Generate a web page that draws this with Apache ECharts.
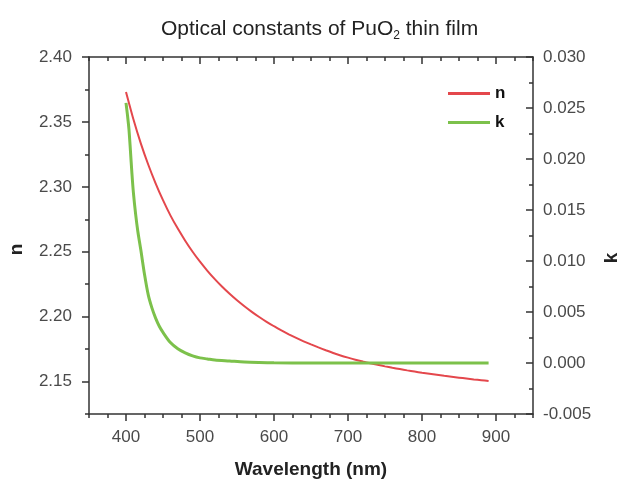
<!DOCTYPE html>
<html>
<head>
<meta charset="utf-8">
<script src="https://cdn.jsdelivr.net/npm/echarts@6/dist/echarts.min.js"></script>
<style>html,body{margin:0;padding:0;background:#fff}#c{width:621px;height:480px}</style>
</head>
<body>
<div id="c"></div>
<script>
// Data
const wavelengthN = [400,410,420,430,440,450,460,470,480,490,500,510,520,530,540,550,560,570,580,590,600,610,620,630,640,650,660,670,680,690,700,710,720,730,740,750,760,770,780,790,800,810,820,830,840,850,860,870,880,890];
const nValues = [2.3730,2.3520,2.3335,2.3172,2.3027,2.2897,2.2780,2.2678,2.2585,2.2500,2.2423,2.2353,2.2289,2.2230,2.2176,2.2126,2.2080,2.2037,2.1997,2.1960,2.1926,2.1894,2.1864,2.1836,2.1810,2.1786,2.1763,2.1741,2.1720,2.1701,2.1684,2.1668,2.1654,2.1641,2.1629,2.1617,2.1606,2.1596,2.1586,2.1577,2.1568,2.1560,2.1552,2.1544,2.1537,2.1530,2.1523,2.1516,2.1510,2.1504];
const wavelengthK = [400,402,404,406,408,410,413,416,420,425,430,435,440,445,450,460,470,480,490,500,510,520,540,560,580,600,650,700,750,800,850,890];
const kValues = [0.0255,0.0243,0.0229,0.0208,0.0186,0.0167,0.0146,0.0129,0.0111,0.0087,0.0067,0.0054,0.0044,0.0036,0.0030,0.0020,0.0014,0.0010,0.0007,0.0005,0.0004,0.0003,0.0002,0.0001,0.00005,0.00002,0,0,0,0,0,0];
const xTickLabels = [400,500,600,700,800,900];
const nTickLabels = [2.15,2.20,2.25,2.30,2.35,2.40];

const FONT = "'Liberation Sans', Arial, sans-serif";
const AX = '#333';
const LBL = '#4a4a4a';

const chart = echarts.init(document.getElementById('c'), null, {renderer:'canvas'});
const lineStyle = {color: AX, width: 1.5};
const grid = {left: 89, right: 88, top: 57, bottom: 66, containLabel: false, outerBoundsMode: 'none'};

function xAxisBase(pos, opts) {
  return Object.assign({
    type: 'value', min: 350, max: 950, position: pos,
    splitLine: {show: false}, axisLabel: {show: false},
    axisLine: {show: false, onZero: false}
  }, opts);
}
function yAxisBase(pos, min, max, opts) {
  return Object.assign({
    type: 'value', min: min, max: max, position: pos,
    splitLine: {show: false}, axisLabel: {show: false},
    axisLine: {show: false, onZero: false}
  }, opts);
}
const shownLine = {show: true, onZero: false, lineStyle: lineStyle};

chart.setOption({
  animation: false,
  backgroundColor: '#fff',
  title: {
    text: '{a|Optical constants of PuO}{b|2}{a| thin film}',
    left: 156, top: 12,
    textStyle: {
      rich: {
        a: {fontSize: 21, fontWeight: 'normal', color: '#222', fontFamily: FONT, lineHeight: 25},
        b: {fontSize: 12, fontWeight: 'normal', color: '#222', fontFamily: FONT, lineHeight: 12, verticalAlign: 'bottom'}
      }
    }
  },
  legend: {
    data: ['n', 'k'], orient: 'vertical', left: 443, top: 80,
    icon: 'rect', itemWidth: 42, itemHeight: 3, itemGap: 12,
    textStyle: {fontSize: 17, fontWeight: 'bold', color: '#111', fontFamily: FONT}
  },
  grid: grid,
  xAxis: [
    xAxisBase('bottom', {
      axisLine: shownLine,
      axisTick: {show: true, customValues: xTickLabels, length: 7, lineStyle: lineStyle},
      axisLabel: {show: true, customValues: xTickLabels, margin: 15, fontSize: 17, color: LBL, fontFamily: FONT},
      name: 'Wavelength (nm)', nameLocation: 'middle', nameGap: 46,
      nameTextStyle: {fontSize: 19, fontWeight: 'bold', color: '#222', fontFamily: FONT}
    }),
    xAxisBase('bottom', {interval: 25, axisTick: {show: true, length: 4, lineStyle: lineStyle}}),
    xAxisBase('top', {
      axisLine: shownLine,
      axisTick: {show: true, inside: true, customValues: xTickLabels, length: 7, lineStyle: lineStyle}
    }),
    xAxisBase('top', {interval: 25, axisTick: {show: true, inside: true, length: 4, lineStyle: lineStyle}})
  ],
  yAxis: [
    yAxisBase('left', 2.125, 2.40, {
      axisLine: shownLine,
      axisTick: {show: true, customValues: nTickLabels, length: 7, lineStyle: lineStyle},
      axisLabel: {show: true, customValues: nTickLabels, margin: 17, fontSize: 17, color: LBL, fontFamily: FONT,
        formatter: v => Number(v).toFixed(2)},
      name: 'n', nameLocation: 'middle', nameGap: 63,
      nameTextStyle: {fontSize: 19, fontWeight: 'bold', color: '#222', fontFamily: FONT, padding: [0, 28, 0, 0]}
    }),
    yAxisBase('right', -0.005, 0.030, {
      interval: 0.005,
      axisLine: shownLine,
      axisTick: {show: true, inside: true, length: 7, lineStyle: lineStyle},
      minorTick: {show: true, splitNumber: 2, length: 4, lineStyle: lineStyle},
      axisLabel: {show: true, margin: 10, fontSize: 17, color: LBL, fontFamily: FONT,
        formatter: v => Number(v).toFixed(3)},
      name: 'k', nameLocation: 'middle', nameGap: 64,
      nameTextStyle: {fontSize: 19, fontWeight: 'bold', color: '#222', fontFamily: FONT, padding: [0, 45, 0, 0]}
    }),
    yAxisBase('left', 2.125, 2.40, {interval: 0.025, axisTick: {show: true, length: 4, lineStyle: lineStyle}})
  ],
  series: [
    {
      name: 'n', type: 'line', xAxisIndex: 0, yAxisIndex: 0,
      data: wavelengthN.map((w, i) => [w, nValues[i]]),
      showSymbol: false, symbol: 'none', smooth: 0.2,
      color: '#e4474c',
      lineStyle: {color: '#e4474c', width: 2}
    },
    {
      name: 'k', type: 'line', xAxisIndex: 0, yAxisIndex: 1,
      data: wavelengthK.map((w, i) => [w, kValues[i]]),
      showSymbol: false, symbol: 'none', smooth: 0.3,
      color: '#7cc14b',
      lineStyle: {color: '#7cc14b', width: 3}
    }
  ]
});
</script>
</body>
</html>
